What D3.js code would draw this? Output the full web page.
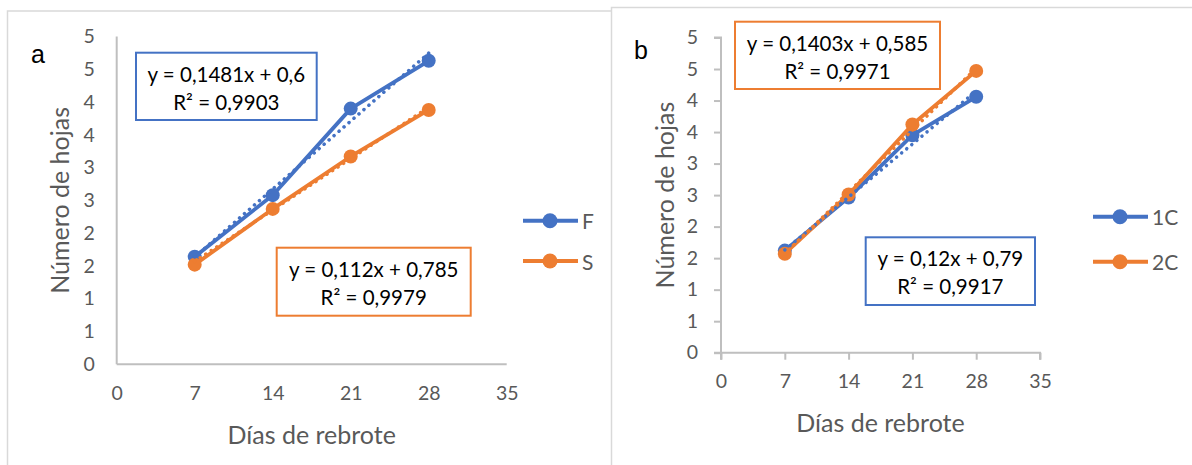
<!DOCTYPE html>
<html><head><meta charset="utf-8">
<script src="https://cdn.jsdelivr.net/npm/d3@7"></script>
<style>
html,body{margin:0;padding:0;background:#fff;}
svg{display:block;}
text{font-family:Lato,"Open Sans",sans-serif;fill:#595959;}
</style></head>
<body>
<svg id="c" width="1192" height="465"></svg>
<script>
// ---- data ----
const days = [7, 14, 21, 28];
const xTickValues = [0, 7, 14, 21, 28, 35];
const yTickValues = [0, 0.5, 1, 1.5, 2, 2.5, 3, 3.5, 4, 4.5, 5];
const yTickLabels = ["0", "1", "1", "2", "2", "3", "3", "4", "4", "5", "5"];

const seriesNamesA = ["F", "S"];
const valuesA_F = [1.64, 2.58, 3.90, 4.63];
const valuesA_S = [1.52, 2.37, 3.17, 3.88];
const trendA_F = [0.1481, 0.6];
const trendA_S = [0.112, 0.785];
const eqA_F = ["y = 0,1481x + 0,6", "R² = 0,9903"];
const eqA_S = ["y = 0,112x + 0,785", "R² = 0,9979"];

const seriesNamesB = ["1C", "2C"];
const valuesB_1C = [1.62, 2.46, 3.45, 4.06];
const valuesB_2C = [1.57, 2.51, 3.62, 4.47];
const trendB_1C = [0.12, 0.79];
const trendB_2C = [0.1403, 0.585];
const eqB_1C = ["y = 0,12x + 0,79", "R² = 0,9917"];
const eqB_2C = ["y = 0,1403x + 0,585", "R² = 0,9971"];

const xTitle = "Días de rebrote";
const yTitle = "Número de hojas";
const BLUE = "#4472C4", ORANGE = "#ED7D31";

const svg = d3.select("#c");

// panel frames
svg.append("rect").attr("x", 7.5).attr("y", 11).attr("width", 620).attr("height", 470)
  .attr("fill", "#fff").attr("stroke", "#d9d9d9").attr("stroke-width", 1.5);
svg.append("rect").attr("x", 611.5).attr("y", 7.5).attr("width", 600).attr("height", 470)
  .attr("fill", "#fff").attr("stroke", "#d9d9d9").attr("stroke-width", 1.5);

function panel(cfg) {
  const g = svg.append("g");
  const x = d3.scaleLinear().domain([0, 35]).range([cfg.x0, cfg.x1]);
  const y = d3.scaleLinear().domain([0, 5]).range([cfg.y0, cfg.y1]);

  // axes
  const xa = g.append("g").attr("transform", `translate(0,${cfg.y0})`)
    .call(d3.axisBottom(x).tickValues(xTickValues).tickSize(cfg.ticks ? 7 : 0).tickPadding(cfg.ticks ? 14 : 22));
  const ya = g.append("g").attr("transform", `translate(${cfg.x0},0)`)
    .call(d3.axisLeft(y).tickValues(yTickValues).tickFormat((d, i) => yTickLabels[i]).tickSize(cfg.ticks ? 7 : 0).tickPadding(cfg.ticks ? 16 : 22));
  [xa, ya].forEach(a => {
    a.select(".domain").attr("stroke", "#bfbfbf").attr("stroke-width", 2);
    a.selectAll(".tick line").attr("stroke", "#bfbfbf").attr("stroke-width", 2);
    a.selectAll(".tick text").attr("fill", "#595959").style("font-size", "19.5px").style("font-family", "Lato");
  });
  if (!cfg.ticks) { xa.select(".domain").attr("d", `M${cfg.x0},0H${cfg.x1}`); ya.select(".domain").attr("d", `M0,${cfg.y0}V${cfg.y1}`); }
  else { ya.select(".domain").attr("d", `M-7,${cfg.y0}H0V${cfg.y1}H-7`); xa.select(".domain").attr("d", `M${cfg.x0},7V0H${cfg.x1}V7`); }

  // titles
  g.append("text").attr("x", (cfg.x0 + cfg.x1) / 2).attr("y", cfg.xTitleY).attr("text-anchor", "middle")
    .style("font-size", "25px").text(xTitle);
  g.append("text").attr("transform", `translate(${cfg.yTitleX},${(cfg.y0 + cfg.y1) / 2}) rotate(-90)`)
    .attr("text-anchor", "middle").attr("dominant-baseline", "central").style("font-size", "25px").text(yTitle);
  g.append("text").attr("x", cfg.letterX).attr("y", cfg.letterY).style("font-family", "'Liberation Sans',Arial,sans-serif")
    .style("font-size", "25px").style("fill", "#000").text(cfg.letter);

  const line = d3.line().x((d, i) => x(days[i])).y(d => y(d));
  cfg.series.forEach(s => {
    g.append("path").datum(s.values).attr("d", line).attr("fill", "none")
      .attr("stroke", s.color).attr("stroke-width", 3.8).attr("stroke-linejoin", "round");
    g.selectAll(null).data(s.values).enter().append("circle")
      .attr("cx", (d, i) => x(days[i])).attr("cy", d => y(d)).attr("r", 7).attr("fill", s.color);
  });
  cfg.series.forEach(s => {
    const t0 = days[0], t1 = days[days.length - 1];
    g.append("line").attr("x1", x(t0)).attr("y1", y(s.trend[0] * t0 + s.trend[1]))
      .attr("x2", x(t1)).attr("y2", y(s.trend[0] * t1 + s.trend[1]))
      .attr("stroke", s.color).attr("stroke-width", 3.5).attr("stroke-dasharray", "0.1 6.5").attr("stroke-linecap", "round");
  });
  // equation boxes
  cfg.series.forEach(s => {
    const b = s.box;
    g.append("rect").attr("x", b[0]).attr("y", b[1]).attr("width", b[2] - b[0]).attr("height", b[3] - b[1])
      .attr("fill", "#fff").attr("stroke", s.color).attr("stroke-width", 2);
    s.eq.forEach((t, i) => {
      g.append("text").attr("x", (b[0] + b[2]) / 2).attr("y", b[1] + (i === 0 ? 21 : 49))
        .attr("text-anchor", "middle").attr("dominant-baseline", "central")
        .style("font-size", "20.5px").style("fill", "#000").text(t);
    });
  });
  // legend
  cfg.series.forEach((s, i) => {
    const ly = cfg.legend[2] + i * cfg.legend[3];
    g.append("line").attr("x1", cfg.legend[0]).attr("x2", cfg.legend[0] + 55).attr("y1", ly).attr("y2", ly)
      .attr("stroke", s.color).attr("stroke-width", 4);
    g.append("circle").attr("cx", cfg.legend[0] + 27).attr("cy", ly).attr("r", 7.5).attr("fill", s.color);
    g.append("text").attr("x", cfg.legend[1]).attr("y", ly).attr("dominant-baseline", "central")
      .style("font-size", "21px").text(s.name);
  });
}

panel({
  x0: 116.7, x1: 506.7, y0: 364.3, y1: 36.5, ticks: false,
  xTitleY: 444, yTitleX: 59, letter: "a", letterX: 31, letterY: 63,
  legend: [523, 582, 220.7, 40.3],
  series: [
    { name: seriesNamesA[0], values: valuesA_F, trend: trendA_F, color: BLUE, eq: eqA_F, box: [136, 52.7, 316.7, 120] },
    { name: seriesNamesA[1], values: valuesA_S, trend: trendA_S, color: ORANGE, eq: eqA_S, box: [276.7, 247.7, 470.7, 315.7] }
  ]
});
panel({
  x0: 721, x1: 1040, y0: 352.7, y1: 37.5, ticks: true,
  xTitleY: 432, yTitleX: 664, letter: "b", letterX: 634, letterY: 59,
  legend: [1093, 1152, 216.7, 45],
  series: [
    { name: seriesNamesB[0], values: valuesB_1C, trend: trendB_1C, color: BLUE, eq: eqB_1C, box: [865.7, 237.3, 1035, 305] },
    { name: seriesNamesB[1], values: valuesB_2C, trend: trendB_2C, color: ORANGE, eq: eqB_2C, box: [735, 21.7, 940, 89] }
  ]
});
</script>
</body></html>
